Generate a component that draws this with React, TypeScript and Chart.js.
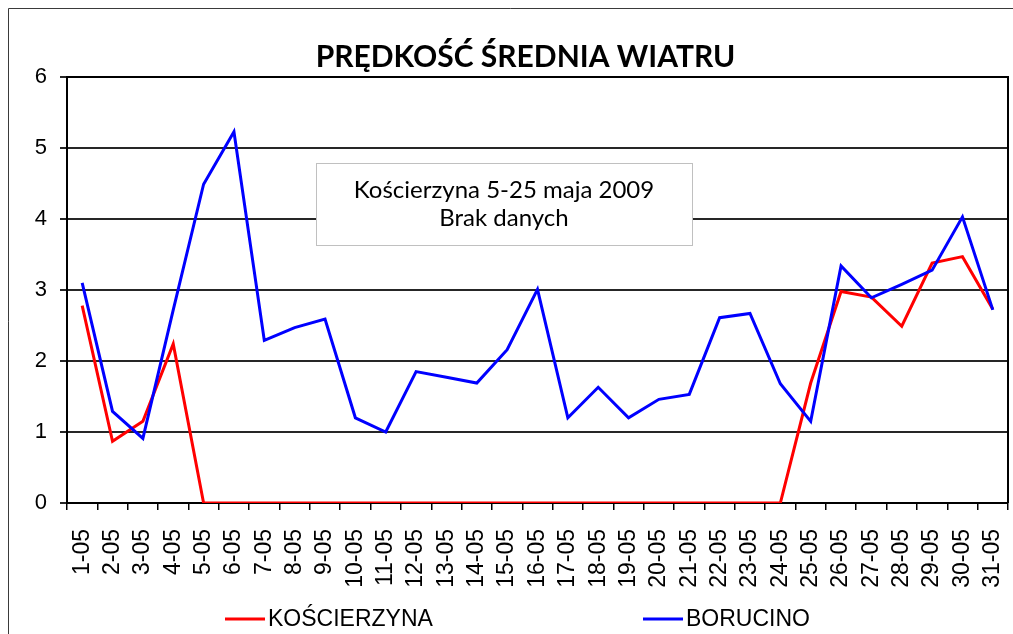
import React, { useEffect, useRef } from 'react';
import { Chart, registerables } from 'chart.js';

Chart.register(...registerables);

const days = [
  '1-05', '2-05', '3-05', '4-05', '5-05', '6-05', '7-05', '8-05', '9-05', '10-05',
  '11-05', '12-05', '13-05', '14-05', '15-05', '16-05', '17-05', '18-05', '19-05', '20-05',
  '21-05', '22-05', '23-05', '24-05', '25-05', '26-05', '27-05', '28-05', '29-05', '30-05',
  '31-05',
];

const koscierzyna = [
  2.78, 0.87, 1.15, 2.24, 0, 0, 0, 0, 0, 0,
  0, 0, 0, 0, 0, 0, 0, 0, 0, 0,
  0, 0, 0, 0, 1.69, 2.98, 2.9, 2.49, 3.38, 3.47,
  2.73,
];

const borucino = [
  3.1, 1.29, 0.91, 2.72, 4.49, 5.23, 2.29, 2.47, 2.59, 1.2,
  1.0, 1.85, 1.77, 1.69, 2.16, 3.01, 1.2, 1.63, 1.2, 1.46,
  1.53, 2.61, 2.67, 1.68, 1.15, 3.34, 2.89, 3.08, 3.28, 4.03,
  2.72,
];

const seriesNames = ['KOŚCIERZYNA', 'BORUCINO'];
const seriesColors = ['#FF0000', '#0000FF'];
const chartTitle = 'PRĘDKOŚĆ ŚREDNIA WIATRU';
const noteLines = ['Kościerzyna 5-25 maja 2009', 'Brak danych'];

const ARIAL = '"Liberation Sans", Arial, sans-serif';
const CALIBRI = 'Lato, "Open Sans", sans-serif';

export default function App() {
  const ref = useRef<HTMLCanvasElement>(null);

  useEffect(() => {
    let chart: Chart | null = null;
    let cancelled = false;

    const framePlugin = {
      id: 'frame',
      beforeDraw(c: any) {
        const ctx = c.ctx;
        ctx.save();
        ctx.fillStyle = '#ffffff';
        ctx.fillRect(0, 0, c.width, c.height);
        ctx.strokeStyle = '#3a3a3a';
        ctx.lineWidth = 1;
        ctx.beginPath();
        ctx.moveTo(8.5, c.height);
        ctx.lineTo(8.5, 8.5);
        ctx.lineTo(c.width, 8.5);
        ctx.stroke();
        ctx.restore();
      },
    };

    const titlePlugin = {
      id: 'customTitle',
      afterDraw(c: any) {
        const ctx = c.ctx;
        ctx.save();
        ctx.fillStyle = '#000';
        ctx.font = `bold 30px ${CALIBRI}`;
        ctx.textAlign = 'center';
        ctx.textBaseline = 'alphabetic';
        ctx.fillText(chartTitle, 525.5, 66.5);
        ctx.restore();
      },
    };

    const areaBorderPlugin = {
      id: 'areaBorder',
      afterDatasetsDraw(c: any) {
        const { left, top, right, bottom } = c.chartArea;
        const ctx = c.ctx;
        ctx.save();
        ctx.strokeStyle = '#000';
        ctx.lineWidth = 2;
        ctx.beginPath();
        ctx.moveTo(left, top);
        ctx.lineTo(right, top);
        ctx.lineTo(right, bottom);
        ctx.stroke();
        ctx.restore();
      },
    };

    const notePlugin = {
      id: 'note',
      afterDatasetsDraw(c: any) {
        const a = c.chartArea;
        const ctx = c.ctx;
        const x0 = a.left + 249;
        const y0 = a.top + 86;
        const w = 376;
        const h = 82;
        ctx.save();
        ctx.fillStyle = '#fff';
        ctx.fillRect(x0, y0, w, h);
        ctx.strokeStyle = '#c0c0c0';
        ctx.lineWidth = 1;
        ctx.strokeRect(x0 + 0.5, y0 + 0.5, w, h);
        ctx.fillStyle = '#000';
        ctx.font = `24px ${CALIBRI}`;
        ctx.textAlign = 'center';
        ctx.textBaseline = 'alphabetic';
        ctx.fillText(noteLines[0], x0 + w / 2, y0 + 35);
        ctx.fillText(noteLines[1], x0 + w / 2, y0 + 63);
        ctx.restore();
      },
    };

    const legendPlugin = {
      id: 'customLegend',
      afterDraw(c: any) {
        const ctx = c.ctx;
        const starts = [225, 643];
        const y = 619;
        ctx.save();
        c.data.datasets.forEach((ds: any, i: number) => {
          const x = starts[i];
          ctx.strokeStyle = ds.borderColor;
          ctx.lineWidth = 3;
          ctx.beginPath();
          ctx.moveTo(x, y);
          ctx.lineTo(x + 40, y);
          ctx.stroke();
          ctx.fillStyle = '#000';
          ctx.font = `23px ${ARIAL}`;
          ctx.textAlign = 'left';
          ctx.textBaseline = 'middle';
          ctx.fillText(ds.label, x + 43, y + 1);
        });
        ctx.restore();
      },
    };

    const build = () => {
      if (cancelled || !ref.current) return;
      chart = new Chart(ref.current, {
        type: 'line',
        data: {
          labels: days,
          datasets: [
            {
              label: seriesNames[0],
              data: koscierzyna,
              borderColor: seriesColors[0],
              backgroundColor: seriesColors[0],
              borderWidth: 3,
              pointRadius: 0,
              tension: 0,
              order: 1,
            },
            {
              label: seriesNames[1],
              data: borucino,
              borderColor: seriesColors[1],
              backgroundColor: seriesColors[1],
              borderWidth: 3,
              pointRadius: 0,
              tension: 0,
              order: 0,
            },
          ],
        },
        options: {
          responsive: false,
          animation: false,
          events: [],
          layout: { padding: { left: 0, right: 5, top: 77, bottom: 36 } },
          plugins: {
            legend: { display: false },
            tooltip: { enabled: false },
            title: { display: false },
          },
          scales: {
            x: {
              type: 'category',
              offset: true,
              grid: {
                display: true,
                offset: true,
                drawOnChartArea: false,
                drawTicks: true,
                tickLength: 7,
                color: '#000',
                lineWidth: 1.5,
              },
              border: { display: true, color: '#000', width: 2 },
              ticks: {
                autoSkip: false,
                minRotation: 90,
                maxRotation: 90,
                padding: 19,
                color: '#000',
                font: { family: ARIAL, size: 23 },
              },
              afterFit(s: any) {
                s.height = 95;
                s.paddingLeft = 0;
                s.paddingRight = 0;
              },
            },
            y: {
              min: 0,
              max: 6,
              ticks: {
                stepSize: 1,
                padding: 13,
                color: '#000',
                font: { family: ARIAL, size: 22 },
              },
              grid: { color: '#262626', lineWidth: 2, tickLength: 7 },
              border: { display: true, color: '#000', width: 2 },
              afterFit(s: any) {
                s.width = 67;
                s.paddingTop = 0;
                s.paddingBottom = 0;
              },
            },
          },
        },
        plugins: [framePlugin, areaBorderPlugin, notePlugin, legendPlugin, titlePlugin],
      } as any);
    };

    const fontsReady = (document as any).fonts
      ? Promise.all([
          (document as any).fonts.load(`bold 30px Lato`),
          (document as any).fonts.load(`24px Lato`),
          (document as any).fonts.load(`23px "Liberation Sans"`),
        ]).catch(() => null)
      : Promise.resolve(null);
    fontsReady.then(build);

    return () => {
      cancelled = true;
      if (chart) chart.destroy();
    };
  }, []);

  return (
    <canvas
      ref={ref}
      width={1013}
      height={634}
      style={{ position: 'fixed', left: 0, top: 0, display: 'block' }}
    />
  );
}
